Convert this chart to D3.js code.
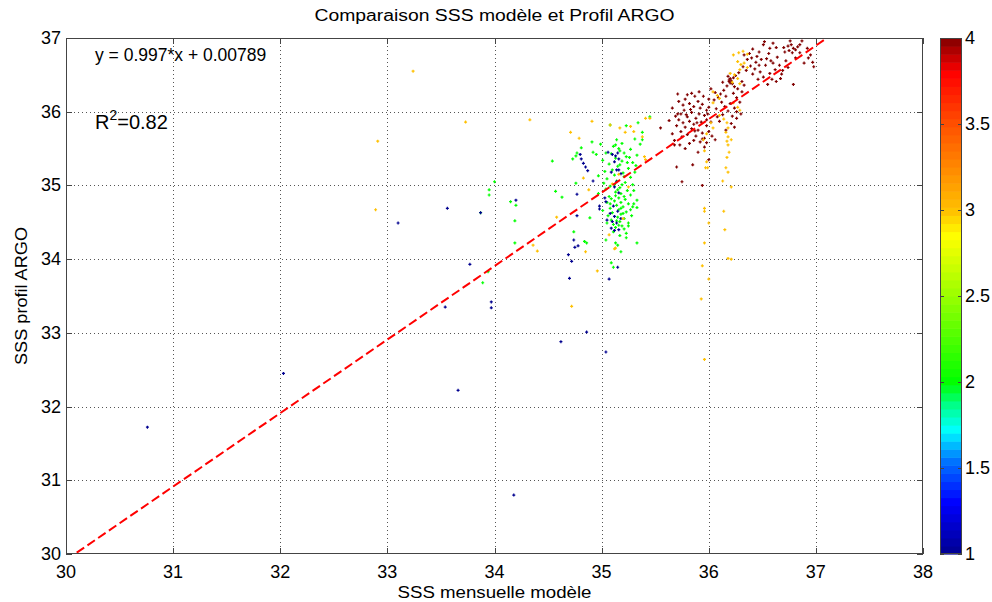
<!DOCTYPE html>
<html><head><meta charset="utf-8">
<script src="https://cdn.jsdelivr.net/npm/d3@7"></script>
<style>body{margin:0;background:#fff}text{font-family:"Liberation Sans",Arial,Helvetica,sans-serif;fill:#000}</style>
</head><body><svg id="c" width="992" height="602"></svg>
<script>
// ---------------- data ----------------
const title = "Comparaison SSS modèle et Profil ARGO";
const xLabel = "SSS mensuelle modèle";
const yLabel = "SSS profil ARGO";
const xTicks = [30,31,32,33,34,35,36,37,38];
const yTicks = [30,31,32,33,34,35,36,37];
const cbTicks = [1,1.5,2,2.5,3,3.5,4];
const fitSlope = 0.997, fitIntercept = 0.00789, fitR2 = 0.82;
const levels = [1,2,3,4];

// points coloured by level 1 (dark blue)
const pointsLevel1 = [[30.76,31.72],[32.03,32.45],[33.10,34.49],[33.56,34.69],[33.87,34.63],[34.20,34.80],[33.77,33.93],[33.54,33.35],[33.97,33.42],[33.97,33.34],[33.66,32.22],[34.18,30.80],[34.77,34.88],[34.83,35.30],[34.85,35.25],[34.87,35.20],[34.80,35.42],[34.81,35.36],[34.92,35.06],[34.74,34.26],[34.78,34.18],[34.75,34.16],[34.69,34.06],[34.72,33.97],[34.70,33.74],[34.86,33.01],[34.62,32.88],[35.04,32.74],[35.07,33.73],[35.15,33.89],[34.77,34.59],[34.98,34.68],[35.05,34.53],[35.10,34.51],[35.14,34.49],[35.09,34.42],[35.12,34.39],[35.16,34.40],[35.06,35.45],[35.10,35.42],[35.13,35.40],[35.15,35.44],[35.16,35.36],[35.12,35.32],[35.09,35.18],[35.14,35.21],[35.16,35.21],[35.18,35.16],[35.03,34.83],[35.04,34.78],[34.98,34.72],[35.08,34.62],[35.12,34.58],[35.15,34.65],[35.18,34.55],[35.11,34.72],[35.14,35.05],[35.12,34.98],[35.16,34.90]];

// level 2 (green)
const pointsLevel2 = [[34.00,35.05],[33.95,34.94],[33.95,34.87],[33.87,34.63],[34.15,34.78],[34.20,34.73],[34.19,34.52],[34.19,34.22],[33.94,33.83],[33.89,33.68],[34.54,35.33],[34.57,34.92],[34.63,34.84],[34.76,35.03],[34.89,34.56],[34.74,34.37],[34.84,34.24],[34.86,34.22],[34.81,35.51],[34.77,35.44],[34.73,35.36],[34.76,35.40],[34.91,35.59],[34.92,35.45],[34.95,35.42],[35.04,34.26],[35.09,33.95],[35.11,33.89],[35.33,34.22],[35.25,34.45],[35.18,34.10],[35.15,34.19],[35.13,34.22],[35.33,34.80],[35.33,34.70],[35.30,34.75],[35.45,35.93],[35.34,35.85],[35.23,35.81],[35.08,35.82],[35.38,35.72],[35.38,35.62],[35.13,35.55],[35.16,35.50],
[35.11,35.53],[35.17,35.47],[35.21,35.44],[35.27,35.49],[35.23,35.39],[35.13,35.37],[35.19,35.33],[35.29,35.31],[35.07,35.29],[35.15,35.26],[35.25,35.23],[35.31,35.18],[35.10,35.21],[35.20,35.17],[35.27,35.11],[35.05,35.09],[35.14,35.06],[35.22,35.04],[35.29,35.01],[35.08,34.99],[35.17,34.97],[35.24,34.93],[35.04,34.95],[35.13,34.91],[35.18,34.89],[35.27,34.87],[35.07,34.85],[35.16,34.83],[35.22,34.81],[35.12,34.79],[35.18,34.77],[35.25,34.75],[35.05,34.77],[35.14,34.73],[35.20,34.71],[35.08,34.69],[35.16,34.67],[35.23,34.64],[35.10,34.63],[35.18,34.61],[35.06,34.59],[35.15,34.57],[35.21,34.55],[35.09,34.53],[35.17,34.51],[35.11,34.47],[35.19,34.45],[35.13,34.43],[35.21,34.41],[35.11,34.37],[35.17,34.32],[35.23,34.29],[35.19,35.01],[35.15,34.94],[35.21,34.85],[35.18,34.69],[35.12,35.14],[35.24,35.31],[35.03,35.19],[35.28,34.59],[35.36,35.56],[35.31,35.63],[34.99,35.56],[35.01,35.34],[35.33,35.41],[35.05,34.49],[35.25,34.49],[35.29,34.71],[35.01,34.66],[34.97,34.89],
[35.14,35.62],[35.19,35.57],[35.09,35.43],[35.26,35.38],[35.12,35.01],[35.09,34.82],[35.20,34.62],[35.14,34.52],[35.23,34.35],[35.16,34.46],[35.30,34.93],[35.02,35.03],[35.21,35.12],[35.17,35.28],[35.13,34.86],[35.27,34.67],[35.08,34.75],[35.32,35.27],[35.04,35.44],[34.97,35.13]];

// level 3 (orange)
const pointsLevel3 = [[36.23,36.77],[36.28,36.80],[36.32,36.82],[36.36,36.78],[36.27,36.68],[36.30,36.64],[36.33,36.66],[36.36,36.60],[36.29,36.57],[36.20,36.52],[36.24,36.50],[36.27,36.45],[36.22,36.40],[36.29,36.38],[36.04,36.27],[36.08,36.22],[36.10,36.18],[36.23,36.12],[36.27,36.06],[36.29,36.02],[36.04,36.12],[36.10,35.95],[36.14,35.90],[36.17,35.85],[36.18,35.78],[36.16,35.72],[36.18,35.66],[36.17,35.60],[36.21,35.62],[36.18,35.55],[36.19,35.45],[36.17,35.38],[36.16,35.24],[36.18,35.18],[36.13,35.06],[36.21,34.98],[36.14,34.65],[36.15,34.40],[36.18,34.01],[36.21,34.00],[35.96,35.47],[35.98,35.32],[35.97,35.24],[35.99,35.24],[35.95,35.62],[35.96,34.69],[35.96,34.65],[36.00,34.49],[35.96,34.22],[35.94,33.91],[36.00,33.73],[35.93,33.46],[35.96,32.64],[36.02,35.85],[36.04,35.78],[35.98,35.70],
[33.24,36.55],[32.91,35.60],[32.89,34.67],[33.73,35.86],[34.33,35.89],[34.71,35.72],[34.79,35.64],[34.91,35.87],[35.08,35.82],[35.17,35.78],[35.22,35.72],[35.27,35.80],[35.30,35.73],[35.38,35.66],[35.41,35.91],[35.45,35.91],[35.40,35.39],[35.41,35.35],[34.83,35.10],[34.88,34.94],[34.58,34.57],[34.36,34.19],[34.40,34.11],[34.85,34.10],[34.96,33.84],[34.72,33.36],[35.13,34.15],[35.07,34.33],[35.20,34.55],[35.10,35.02],[35.16,35.15],[35.25,34.98],[35.12,34.14]];

// level 4 (dark red)
const pointsLevel4 = [[36.52,36.95],[36.60,36.93],[36.63,36.87],[36.57,36.86],[36.51,36.91],[36.47,36.81],[36.41,36.85],[36.38,36.79],[36.33,36.77],[36.45,36.75],[36.56,36.79],[36.71,36.81],[36.76,36.96],[36.77,36.91],[36.79,36.86],[36.81,36.84],[36.75,36.83],[36.78,36.80],[36.83,36.88],[36.74,36.89],[36.87,36.96],[36.85,36.91],[36.92,36.86],[36.95,36.77],[36.93,36.73],[36.97,36.67],[36.89,36.66],[36.98,36.61],[36.72,36.69],[36.66,36.63],[36.69,36.56],[36.62,36.57],[36.58,36.69],[36.53,36.63],[36.49,36.71],[36.44,36.67],[36.39,36.62],[36.36,36.71],[36.48,36.54],[36.51,36.47],[36.59,36.44],[36.63,36.41],[36.55,36.37],[36.68,36.51],[36.79,36.37],[36.46,36.44],[36.41,36.51],[36.35,36.56],[36.32,36.61],[36.64,36.74],[36.57,36.52],[36.43,36.58],[36.67,36.45],[36.74,36.60],[36.85,36.80],[36.60,36.66],[36.70,36.87],[36.54,36.72],[36.47,36.63],[36.81,36.73],[36.40,36.73],
[36.18,36.48],[36.20,36.45],[36.21,36.42],[36.19,36.41],[36.22,36.38],[36.17,36.35],[36.24,36.34],[36.25,36.49],[36.28,36.53],[36.31,36.41],[36.27,36.31],[36.14,36.29],[36.11,36.24],[36.09,36.19],[36.16,36.21],[36.23,36.25],[36.26,36.19],[36.31,36.27],[36.33,36.36],[36.12,36.13],[36.15,36.07],[36.20,36.11],[36.24,36.05],[36.29,36.13],[36.18,36.01],[36.22,35.94],[36.26,35.91],[36.13,35.96],[36.10,35.87],[36.21,35.84],[36.24,35.79],[36.16,35.75],[36.30,35.97],[36.07,36.04],[36.05,36.16],[36.06,36.26],[36.02,36.31],[36.00,36.17],[36.19,36.43],[36.20,36.39],[36.23,36.46],[36.13,36.40],[36.26,36.00],[36.08,35.93],
[35.80,36.23],[35.84,36.25],[35.78,36.17],[35.87,36.21],[35.90,36.14],[35.82,36.11],[35.76,36.09],[35.86,36.07],[35.92,36.05],[35.77,36.02],[35.84,35.99],[35.91,35.97],[35.74,35.97],[35.80,35.93],[35.96,35.95],[35.88,35.91],[35.72,35.89],[35.76,35.85],[35.82,35.87],[35.86,35.83],[35.93,35.86],[35.98,35.89],[35.78,35.79],[35.84,35.77],[35.90,35.75],[35.74,35.73],[35.80,35.69],[35.88,35.67],[35.94,35.71],[35.98,35.81],[35.70,35.81],[35.86,35.61],[35.92,35.59],[35.82,35.57],[35.96,35.64],[36.00,35.73],[36.02,35.86],[35.94,36.10],[35.98,36.02],[35.83,36.03],[35.79,35.96],[35.89,35.85],[35.75,35.66],[35.87,35.74],
[35.66,36.05],[35.69,35.94],[35.72,36.14],[35.95,36.21],[36.00,36.06],[35.66,35.70],[35.63,35.88],[35.71,36.24],[35.91,36.27],[35.68,35.61],[35.99,35.97],
[35.55,35.78],[35.71,35.97],[35.73,35.55],[35.70,35.25],[35.75,35.05],[35.94,35.00],[35.85,35.28],[36.00,35.35],[35.90,35.45],[35.68,35.55],[35.78,35.50],[35.94,35.63],[35.96,35.52],[36.03,35.67],[36.06,35.62],[35.98,35.58]];

// colour map stops
const cmapStops = [1,1.3,1.55,1.72,1.86,2,2.5,2.85,3,3.5,3.8,4];
const cmapColors = ["#00008f","#0000ff","#0078ff","#00ffff","#00ff90","#00ff00","#99ff00","#ffff00","#ffc000","#ff5000","#ff0000","#800000"];

// ---------------- drawing ----------------
const svg = d3.select("#c");
const L = 66, R = 923, T = 38, B = 554;
const x = d3.scaleLinear().domain([30,38]).range([L,R]);
const y = d3.scaleLinear().domain([30,37]).range([B,T]);
const cmap = d3.scaleLinear().domain(cmapStops).range(cmapColors).interpolate(d3.interpolateRgb);

svg.append("rect").attr("width",992).attr("height",602).attr("fill","#fff");

// grid
const grid = svg.append("g").attr("stroke","#555").attr("stroke-width",1).attr("stroke-dasharray","1,3");
grid.selectAll("line.gx").data(xTicks.slice(1,-1)).enter().append("line")
  .attr("x1",d=>Math.round(x(d))+0.5).attr("x2",d=>Math.round(x(d))+0.5).attr("y1",T).attr("y2",B);
grid.selectAll("line.gy").data(yTicks.slice(1,-1)).enter().append("line")
  .attr("y1",d=>Math.round(y(d))+0.5).attr("y2",d=>Math.round(y(d))+0.5).attr("x1",L).attr("x2",R);

// points
svg.append("clipPath").attr("id","clip").append("rect").attr("x",L).attr("y",T).attr("width",R-L).attr("height",B-T);
const pts = svg.append("g").attr("clip-path","url(#clip)");
const plus = "M-1.5,0H1.5M0,-1.5V1.5";
function drawPts(arr, lvl){
  pts.append("g").selectAll("path").data(arr).enter().append("path")
    .attr("d",plus)
    .attr("transform",d=>`translate(${x(d[0])},${y(d[1])})`)
    .attr("stroke",cmap(lvl)).attr("stroke-width",1.2).attr("fill","none");
}
drawPts(pointsLevel2, levels[1]);
drawPts(pointsLevel1, levels[0]);
drawPts(pointsLevel4, levels[3]);
drawPts(pointsLevel3, levels[2]);

// regression line
pts.append("line")
  .attr("x1",x(30)).attr("y1",y(fitSlope*30+fitIntercept))
  .attr("x2",x(38)).attr("y2",y(fitSlope*38+fitIntercept))
  .attr("stroke","#ff0000").attr("stroke-width",2).attr("stroke-dasharray","9,4");

// axes: frame + inside ticks on all sides
const ax = svg.append("g").attr("stroke","#444").attr("stroke-width",1);
ax.append("rect").attr("x",L+0.5).attr("y",T+0.5).attr("width",R-L-1).attr("height",B-T-1).attr("fill","none");
xTicks.forEach(t=>{
  const px = Math.round(x(t))+0.5;
  ax.append("line").attr("x1",px).attr("x2",px).attr("y1",B).attr("y2",B-6);
  ax.append("line").attr("x1",px).attr("x2",px).attr("y1",T).attr("y2",T+6);
});
yTicks.forEach(t=>{
  const py = Math.round(y(t))+0.5;
  ax.append("line").attr("y1",py).attr("y2",py).attr("x1",L).attr("x2",L+6);
  ax.append("line").attr("y1",py).attr("y2",py).attr("x1",R).attr("x2",R-6);
});

// tick labels
svg.append("g").selectAll("text").data(xTicks).enter().append("text")
  .attr("x",d=>x(d)).attr("y",B+24).attr("text-anchor","middle").attr("font-size",18).text(d=>d);
svg.append("g").selectAll("text").data(yTicks).enter().append("text")
  .attr("x",L-5).attr("y",d=>y(d)+6).attr("text-anchor","end").attr("font-size",18).text(d=>d);

// titles
svg.append("text").attr("x",(L+R)/2).attr("y",21).attr("text-anchor","middle").attr("font-size",16)
  .attr("textLength",360).attr("lengthAdjust","spacingAndGlyphs").text(title);
svg.append("text").attr("x",(L+R)/2).attr("y",598).attr("text-anchor","middle").attr("font-size",16)
  .attr("textLength",194).attr("lengthAdjust","spacingAndGlyphs").text(xLabel);
svg.append("text").attr("transform",`translate(27,${(T+B)/2}) rotate(-90)`).attr("text-anchor","middle").attr("font-size",16)
  .attr("textLength",138).attr("lengthAdjust","spacingAndGlyphs").text(yLabel);

// annotations
svg.append("text").attr("x",95).attr("y",61).attr("font-size",17.5)
  .text(`y = ${fitSlope}*x + ${fitIntercept}`);
const r2 = svg.append("text").attr("x",95).attr("y",129).attr("font-size",20);
r2.append("tspan").text("R");
r2.append("tspan").attr("dy",-9).attr("font-size",14).text("2");
r2.append("tspan").attr("dy",9).text(`=${fitR2}`);

// colour bar
const cbL = 940, cbR = 962;
const cy = d3.scaleLinear().domain([1,4]).range([B,T]);
const nBands = 64;
const bands = d3.range(nBands);
svg.append("g").selectAll("rect").data(bands).enter().append("rect")
  .attr("x",cbL).attr("width",cbR-cbL)
  .attr("y",i=>cy(1+(i+1)*3/nBands)).attr("height",(B-T)/nBands+0.6)
  .attr("fill",i=>cmap(1+(i+0.5)*3/nBands));
const cb = svg.append("g").attr("stroke","#444").attr("stroke-width",1);
cb.append("rect").attr("x",cbL+0.5).attr("y",T+0.5).attr("width",cbR-cbL-1).attr("height",B-T-1).attr("fill","none");
cbTicks.forEach(t=>{
  const py = Math.round(cy(t))+0.5;
  cb.append("line").attr("y1",py).attr("y2",py).attr("x1",cbL).attr("x2",cbL+4);
  cb.append("line").attr("y1",py).attr("y2",py).attr("x1",cbR).attr("x2",cbR-4);
});
svg.append("g").selectAll("text").data(cbTicks).enter().append("text")
  .attr("x",cbR+3).attr("y",d=>cy(d)+6).attr("font-size",18).text(d=>d);
</script></body></html>
